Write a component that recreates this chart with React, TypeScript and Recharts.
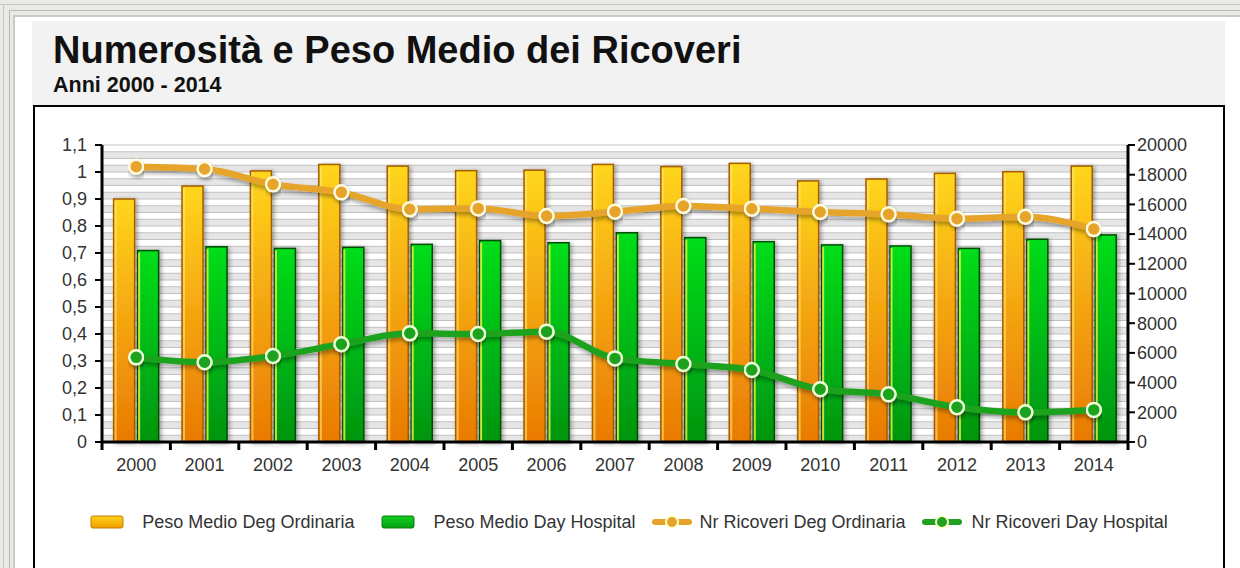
import { ComposedChart, Bar, Line, XAxis, YAxis, CartesianGrid, Legend } from 'recharts';

const years = ['2000', '2001', '2002', '2003', '2004', '2005', '2006', '2007', '2008', '2009', '2010', '2011', '2012', '2013', '2014'];
const pesoOrdinaria = [0.9, 0.948, 1.004, 1.028, 1.022, 1.005, 1.007, 1.028, 1.02, 1.032, 0.967, 0.974, 0.995, 1.001, 1.022];
const pesoDayHospital = [0.709, 0.723, 0.717, 0.721, 0.732, 0.746, 0.738, 0.775, 0.757, 0.742, 0.73, 0.726, 0.717, 0.751, 0.767];
const ricoveriOrdinaria = [18540, 18380, 17350, 16810, 15670, 15730, 15220, 15510, 15890, 15710, 15490, 15330, 15040, 15170, 14340];
const ricoveriDayHospital = [5700, 5370, 5790, 6580, 7320, 7270, 7430, 5630, 5250, 4850, 3550, 3210, 2340, 2000, 2160];

const leftMax = 1.1;
const leftTicks = [0, 0.1, 0.2, 0.3, 0.4, 0.5, 0.6, 0.7, 0.8, 0.9, 1, 1.1];
const rightTicks = [0, 2000, 4000, 6000, 8000, 10000, 12000, 14000, 16000, 18000, 20000];
// fine grid every 0.025 on the left scale
const gridTicks = Array.from({ length: 45 }, (_, i) => +(i * 0.025).toFixed(3));

const seriesNames = ['Peso Medio Deg Ordinaria', 'Peso Medio Day Hospital', 'Nr Ricoveri Deg Ordinaria', 'Nr Ricoveri Day Hospital'];

const data = years.map((year, i) => ({
  year,
  pesoOrd: pesoOrdinaria[i],
  pesoDh: pesoDayHospital[i],
  nrOrd: ricoveriOrdinaria[i],
  nrDh: ricoveriDayHospital[i],
}));

const FONT = "'Liberation Sans', Arial, sans-serif";
const ORANGE_LINE = '#e6a52a';
const GREEN_LINE = '#1fa21f';

const OrangeBar = (props: any) => {
  const { x, y, width, height } = props;
  if (!height || height <= 0) return null;
  return (
    <g filter="url(#barShadow)">
      <rect x={x} y={y} width={width} height={height} fill="url(#gradOrange)" stroke="#a65c00" strokeWidth={1.5} />
      <rect x={x + 1} y={y + 2} width={2} height={height - 3} fill="#ffe97a" opacity={0.6} />
    </g>
  );
};

const GreenBar = (props: any) => {
  const { x, y, width, height } = props;
  if (!height || height <= 0) return null;
  return (
    <g filter="url(#barShadow)">
      <rect x={x} y={y} width={width} height={height} fill="url(#gradGreen)" stroke="#064d06" strokeWidth={1.5} />
      <rect x={x + 0.5} y={y + 2} width={2} height={height - 3} fill="#e8f040" opacity={0.85} />
    </g>
  );
};

const YearTick = (props: any) => {
  const { x, y, payload, index } = props;
  const half = payload.offset ?? 0;
  return (
    <g>
      <line x1={x - half} y1={y} x2={x - half} y2={y + 8} stroke="#000" strokeWidth={3} />
      {index === years.length - 1 && (
        <line x1={x + half} y1={y} x2={x + half} y2={y + 8} stroke="#000" strokeWidth={3} />
      )}
      <text x={x} y={y + 29} textAnchor="middle" fill="#333" fontSize={18} fontFamily={FONT}>
        {payload.value}
      </text>
    </g>
  );
};

const BarIcon = ({ grad, stroke }: { grad: string; stroke: string }) => (
  <svg width={34} height={16}>
    <rect x={1} y={2} width={32} height={12} rx={2} fill={`url(#${grad})`} stroke={stroke} strokeWidth={1} />
  </svg>
);

const LineIcon = ({ color }: { color: string }) => (
  <svg width={40} height={18}>
    <line x1={3} y1={9} x2={37} y2={9} stroke={color} strokeWidth={6} strokeLinecap="round" />
    <circle cx={20} cy={9} r={6} fill={color} stroke="#ffffcc" strokeWidth={2} />
  </svg>
);

const renderLegend = () => {
  const icons = [
    <BarIcon grad="gradOrangeIcon" stroke="#c07a00" />,
    <BarIcon grad="gradGreenIcon" stroke="#0a7a0a" />,
    <LineIcon color={ORANGE_LINE} />,
    <LineIcon color={GREEN_LINE} />,
  ];
  const textGap = [18, 18, 8, 10];
  const itemGap = [27, 16, 16, 0];
  return (
    <div style={{ height: 30, display: 'flex', justifyContent: 'center', alignItems: 'center', fontFamily: FONT, fontSize: 18, color: '#333' }}>
      <svg width={0} height={0} style={{ position: 'absolute' }}>
        <defs>
          <linearGradient id="gradOrangeIcon" x1="0" y1="0" x2="0" y2="1">
            <stop offset="0%" stopColor="#ffd21a" />
            <stop offset="100%" stopColor="#f0a000" />
          </linearGradient>
          <linearGradient id="gradGreenIcon" x1="0" y1="0" x2="0" y2="1">
            <stop offset="0%" stopColor="#10d020" />
            <stop offset="100%" stopColor="#04a010" />
          </linearGradient>
        </defs>
      </svg>
      {seriesNames.map((name, i) => (
        <div key={name} style={{ display: 'flex', alignItems: 'center', marginRight: itemGap[i] }}>
          {icons[i]}
          <span style={{ marginLeft: textGap[i] }}>{name}</span>
        </div>
      ))}
    </div>
  );
};

// fine horizontal grid on the left value scale
const gridCoords = ({ offset }: any) =>
  gridTicks.map((t) => offset.top + offset.height * (1 - t / leftMax));

export default function App() {
  return (
    <div style={{ position: 'absolute', left: 0, top: 0, width: 1240, height: 568, background: '#e9e9e6', overflow: 'hidden' }}>
      {/* outer window frame */}
      <div style={{ position: 'absolute', left: 0, top: 4, width: 1240, height: 1, background: '#c4c4c0' }} />
      <div style={{ position: 'absolute', left: 3, top: 4, width: 1, height: 564, background: '#c4c4c0' }} />
      <div style={{ position: 'absolute', left: 9, top: 10, width: 1231, height: 1, background: '#b8b8b4' }} />
      <div style={{ position: 'absolute', left: 9, top: 10, width: 1, height: 558, background: '#b8b8b4' }} />
      <div style={{ position: 'absolute', left: 13, top: 15, right: 0, bottom: 0, background: '#ffffff', borderTop: '2px solid #c9c9c5', borderLeft: '2px solid #c9c9c5' }} />
      {/* title band */}
      <div style={{ position: 'absolute', left: 32, top: 21, width: 1193, height: 85, background: '#f2f2f2' }} />
      <div style={{ position: 'absolute', left: 53, top: 28, fontFamily: FONT, fontWeight: 'bold', fontSize: 38, color: '#111', lineHeight: '44px' }}>
        Numerosità e Peso Medio dei Ricoveri
      </div>
      <div style={{ position: 'absolute', left: 53, top: 73, fontFamily: FONT, fontWeight: 'bold', fontSize: 21.5, color: '#111', lineHeight: '24px' }}>
        Anni 2000 - 2014
      </div>
      {/* chart box */}
      <div style={{ position: 'absolute', left: 33, top: 105, width: 1188, height: 480, border: '2px solid #000', background: '#fff' }}>
        <ComposedChart
          width={1188}
          height={461}
          data={data}
          margin={{ top: 38, right: 0, bottom: 31, left: 0 }}
          barCategoryGap="17%"
          barGap={3}
        >
          <defs>
            <linearGradient id="gradOrange" x1="0" y1="0" x2="0" y2="1">
              <stop offset="0%" stopColor="#ffd61c" />
              <stop offset="45%" stopColor="#f5aa12" />
              <stop offset="100%" stopColor="#e97a02" />
            </linearGradient>
            <linearGradient id="gradGreen" x1="0" y1="0" x2="0" y2="1">
              <stop offset="0%" stopColor="#00de1a" />
              <stop offset="100%" stopColor="#009410" />
            </linearGradient>
            <filter id="barShadow" x="-30%" y="-5%" width="160%" height="115%">
              <feDropShadow dx={2} dy={1} stdDeviation={2} floodColor="#000" floodOpacity={0.35} />
            </filter>
            <filter id="lineShadow" x="-5%" y="-20%" width="110%" height="160%">
              <feDropShadow dx={1} dy={3} stdDeviation={2} floodColor="#000" floodOpacity={0.35} />
            </filter>
          </defs>
          <CartesianGrid
            yAxisId="left"
            vertical={false}
            stroke="#c2c2c2"
            strokeWidth={1}
            horizontalCoordinatesGenerator={gridCoords}
            horizontalFill={['#ffffff', '#e6e6e6']}
          />
          <XAxis
            dataKey="year"
            height={65}
            interval={0}
            axisLine={{ stroke: '#000', strokeWidth: 3 }}
            tickLine={false}
            tickSize={0}
            tickMargin={0}
            tick={<YearTick />}
          />
          <YAxis
            yAxisId="left"
            width={67}
            domain={[0, leftMax]}
            ticks={leftTicks}
            interval={0}
            tickFormatter={(v: number) => String(v).replace('.', ',')}
            axisLine={{ stroke: '#000', strokeWidth: 3 }}
            tickLine={{ stroke: '#000', strokeWidth: 2 }}
            tickSize={7}
            tickMargin={8}
            tick={{ fill: '#333', fontSize: 18, fontFamily: FONT }}
          />
          <YAxis
            yAxisId="right"
            orientation="right"
            width={95}
            domain={[0, 20000]}
            ticks={rightTicks}
            interval={0}
            axisLine={{ stroke: '#000', strokeWidth: 3 }}
            tickLine={{ stroke: '#000', strokeWidth: 2 }}
            tickSize={7}
            tickMargin={2}
            tick={{ fill: '#333', fontSize: 18, fontFamily: FONT }}
          />
          <Legend verticalAlign="bottom" content={renderLegend} />
          <Bar yAxisId="left" dataKey="pesoOrd" name={seriesNames[0]} shape={<OrangeBar />} isAnimationActive={false} />
          <Bar yAxisId="left" dataKey="pesoDh" name={seriesNames[1]} shape={<GreenBar />} isAnimationActive={false} />
          <Line
            yAxisId="right"
            type="monotone"
            dataKey="nrOrd"
            name={seriesNames[2]}
            stroke={ORANGE_LINE}
            strokeWidth={6.5}
            filter="url(#lineShadow)"
            dot={{ r: 7, fill: ORANGE_LINE, stroke: '#fffbe0', strokeWidth: 2.5 }}
            isAnimationActive={false}
          />
          <Line
            yAxisId="right"
            type="monotone"
            dataKey="nrDh"
            name={seriesNames[3]}
            stroke={GREEN_LINE}
            strokeWidth={6.5}
            filter="url(#lineShadow)"
            dot={{ r: 7, fill: GREEN_LINE, stroke: '#eeffd8', strokeWidth: 2.5 }}
            isAnimationActive={false}
          />
        </ComposedChart>
      </div>
    </div>
  );
}
